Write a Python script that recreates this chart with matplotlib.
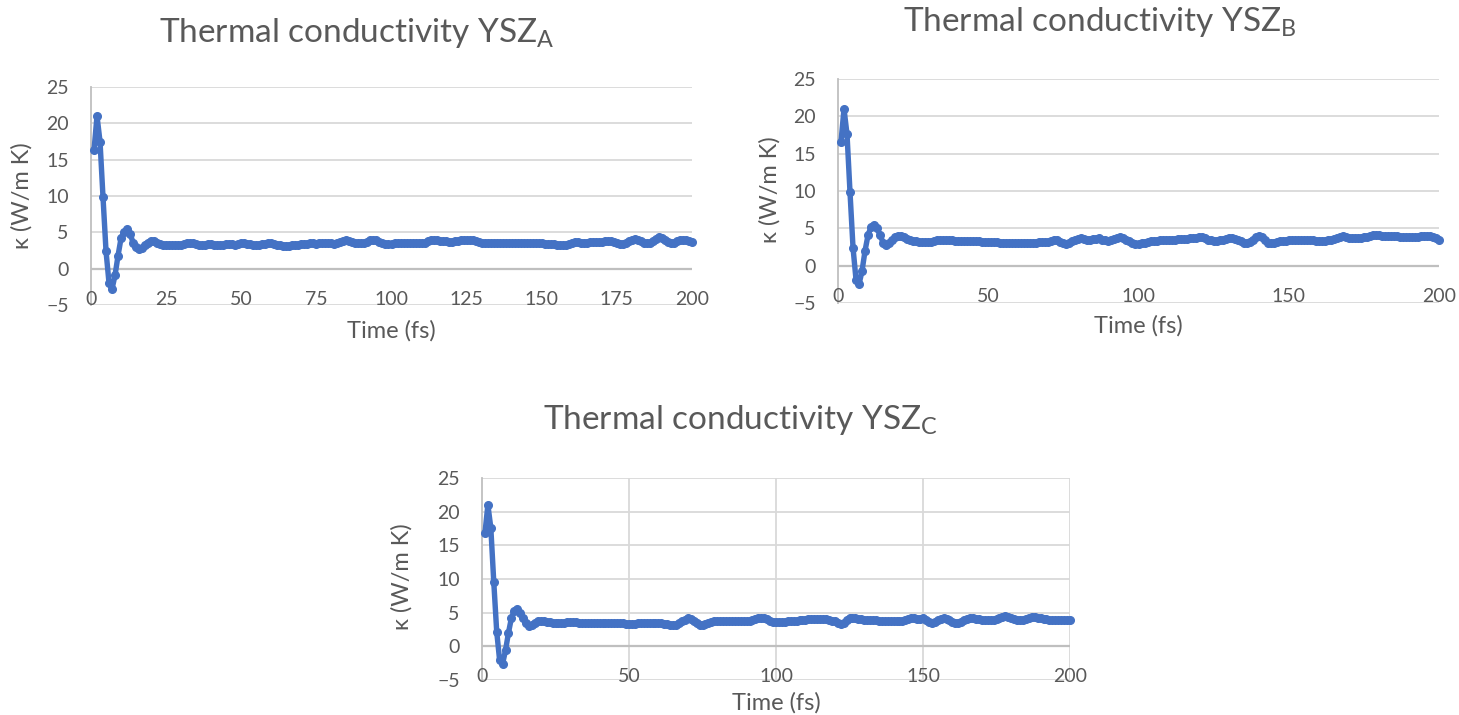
import matplotlib
matplotlib.use("Agg")
import matplotlib.pyplot as plt

plt.rcParams['font.family'] = ['Lato', 'DejaVu Sans']
plt.rcParams['mathtext.fontset'] = 'custom'
plt.rcParams['mathtext.rm'] = 'Lato'
plt.rcParams['mathtext.it'] = 'Lato'

time_fs = list(range(1, 201))

kappa_A = [
    16.3, 21.0, 17.5, 9.8, 2.4, -2.0, -2.8, -0.9, 1.8, 4.2,
    5.1, 5.4, 4.8, 3.6, 3.0, 2.7, 2.9, 3.3, 3.6, 3.8,
    3.8, 3.6, 3.4, 3.3, 3.2, 3.3, 3.3, 3.2, 3.3, 3.3,
    3.4, 3.5, 3.6, 3.5, 3.4, 3.3, 3.3, 3.3, 3.4, 3.4,
    3.3, 3.3, 3.3, 3.3, 3.4, 3.4, 3.4, 3.3, 3.4, 3.5,
    3.5, 3.4, 3.4, 3.3, 3.3, 3.3, 3.4, 3.4, 3.5, 3.5,
    3.4, 3.3, 3.2, 3.1, 3.1, 3.1, 3.2, 3.3, 3.3, 3.4,
    3.4, 3.4, 3.5, 3.5, 3.4, 3.5, 3.5, 3.5, 3.5, 3.5,
    3.4, 3.6, 3.7, 3.8, 3.9, 3.8, 3.7, 3.6, 3.5, 3.5,
    3.6, 3.7, 3.9, 4.0, 3.9, 3.7, 3.5, 3.4, 3.4, 3.4,
    3.5, 3.5, 3.5, 3.5, 3.5, 3.5, 3.5, 3.5, 3.5, 3.5,
    3.6, 3.8, 4.0, 4.0, 3.9, 3.8, 3.8, 3.8, 3.7, 3.7,
    3.8, 3.8, 3.9, 3.9, 3.9, 3.9, 3.9, 3.8, 3.7, 3.6,
    3.6, 3.6, 3.6, 3.6, 3.6, 3.6, 3.6, 3.6, 3.6, 3.6,
    3.6, 3.6, 3.6, 3.6, 3.5, 3.5, 3.5, 3.5, 3.5, 3.5,
    3.4, 3.4, 3.4, 3.4, 3.3, 3.2, 3.2, 3.2, 3.4, 3.6,
    3.7, 3.7, 3.6, 3.6, 3.6, 3.7, 3.7, 3.7, 3.7, 3.7,
    3.8, 3.8, 3.8, 3.7, 3.5, 3.4, 3.4, 3.5, 3.8, 4.0,
    4.1, 4.0, 3.8, 3.6, 3.5, 3.5, 3.8, 4.1, 4.3, 4.2,
    4.0, 3.7, 3.5, 3.6, 3.8, 4.0, 4.0, 3.9, 3.8, 3.7,
]

kappa_B = [
    16.6, 21.0, 17.6, 9.8, 2.4, -1.9, -2.5, -0.7, 2.0, 4.1,
    5.2, 5.5, 5.0, 4.1, 3.1, 2.8, 3.0, 3.4, 3.8, 3.95,
    3.95, 3.8, 3.6, 3.4, 3.3, 3.3, 3.2, 3.2, 3.2, 3.2,
    3.2, 3.3, 3.4, 3.4, 3.4, 3.5, 3.5, 3.4, 3.3, 3.3,
    3.3, 3.3, 3.3, 3.3, 3.3, 3.3, 3.3, 3.2, 3.2, 3.2,
    3.2, 3.2, 3.2, 3.1, 3.1, 3.1, 3.1, 3.0, 3.0, 3.0,
    3.0, 3.1, 3.1, 3.1, 3.1, 3.1, 3.2, 3.2, 3.2, 3.2,
    3.3, 3.5, 3.4, 3.2, 3.0, 2.9, 3.0, 3.3, 3.5, 3.6,
    3.65, 3.6, 3.5, 3.5, 3.55, 3.6, 3.65, 3.5, 3.4, 3.35,
    3.4, 3.6, 3.75, 3.8, 3.7, 3.5, 3.3, 3.1, 2.95, 2.9,
    3.0, 3.1, 3.2, 3.25, 3.3, 3.35, 3.4, 3.4, 3.45, 3.5,
    3.5, 3.5, 3.55, 3.6, 3.6, 3.6, 3.7, 3.7, 3.75, 3.8,
    3.8, 3.7, 3.5, 3.4, 3.35, 3.35, 3.4, 3.5, 3.6, 3.65,
    3.65, 3.6, 3.5, 3.3, 3.1, 3.05, 3.2, 3.5, 3.8, 3.95,
    3.8, 3.4, 3.1, 3.0, 3.1, 3.2, 3.3, 3.35, 3.35, 3.4,
    3.4, 3.4, 3.4, 3.4, 3.4, 3.4, 3.4, 3.4, 3.35, 3.35,
    3.35, 3.35, 3.4, 3.5, 3.6, 3.75, 3.9, 3.95, 3.85, 3.75,
    3.7, 3.65, 3.65, 3.7, 3.8, 3.9, 4.0, 4.1, 4.1, 4.05,
    4.0, 3.95, 3.95, 3.95, 3.95, 3.95, 3.9, 3.85, 3.8, 3.8,
    3.8, 3.85, 3.9, 3.95, 4.0, 4.0, 3.95, 3.85, 3.7, 3.5,
]

kappa_C = [
    16.8, 21.0, 17.6, 9.6, 2.2, -2.1, -2.6, -0.6, 2.0, 4.2,
    5.3, 5.5, 5.0, 4.2, 3.4, 3.0, 3.1, 3.4, 3.7, 3.8,
    3.7, 3.6, 3.6, 3.5, 3.5, 3.5, 3.5, 3.5, 3.6, 3.6,
    3.6, 3.6, 3.5, 3.45, 3.45, 3.45, 3.45, 3.5, 3.45, 3.45,
    3.4, 3.4, 3.45, 3.5, 3.5, 3.5, 3.45, 3.4, 3.35, 3.35,
    3.35, 3.35, 3.4, 3.4, 3.4, 3.45, 3.45, 3.4, 3.45, 3.45,
    3.4, 3.35, 3.3, 3.2, 3.1, 3.2, 3.4, 3.7, 3.95, 4.15,
    4.0, 3.7, 3.4, 3.1, 3.1, 3.3, 3.5, 3.65, 3.75, 3.77,
    3.77, 3.75, 3.75, 3.75, 3.7, 3.7, 3.7, 3.7, 3.7, 3.7,
    3.75, 3.85, 4.0, 4.15, 4.25, 4.2, 4.0, 3.8, 3.65, 3.6,
    3.6, 3.6, 3.65, 3.7, 3.75, 3.77, 3.8, 3.85, 3.9, 3.95,
    4.0, 4.05, 4.05, 4.05, 4.05, 4.05, 4.0, 3.9, 3.8, 3.7,
    3.5, 3.3, 3.5, 3.9, 4.2, 4.25, 4.15, 4.05, 4.0, 3.95,
    3.9, 3.9, 3.9, 3.85, 3.8, 3.75, 3.7, 3.7, 3.7, 3.7,
    3.7, 3.7, 3.75, 3.85, 4.0, 4.15, 4.15, 4.1, 4.05, 4.15,
    3.9, 3.6, 3.44, 3.6, 3.9, 4.1, 4.15, 4.1, 3.9, 3.65,
    3.5, 3.44, 3.6, 3.9, 4.1, 4.15, 4.15, 4.1, 4.0, 3.9,
    3.9, 3.9, 3.9, 3.9, 4.0, 4.2, 4.4, 4.5, 4.4, 4.2,
    4.0, 3.9, 3.9, 3.95, 4.1, 4.2, 4.3, 4.3, 4.25, 4.2,
    4.1, 4.0, 3.95, 3.9, 3.9, 3.9, 3.9, 3.9, 3.9, 3.9,
]

xticks_A = [0, 25, 50, 75, 100, 125, 150, 175, 200]
xticks_BC = [0, 50, 100, 150, 200]
yticks = [-5, 0, 5, 10, 15, 20, 25]

W, H = 1459, 715
fig = plt.figure(figsize=(W / 100, H / 100), dpi=100)

LINE = '#4472C4'
TXT = '#595959'
GRID = '#D9D9D9'
AXC = '#BFBFBF'


def px_axes(left, right, top, bottom):
    return fig.add_axes([left / W, 1 - bottom / H, (right - left) / W, (bottom - top) / H])


panels = [
    dict(box=(91, 692, 87, 305), data=kappa_A, xt=xticks_A, vgrid=False,
         tpos=(357, 33), ypos=(22, 196), xpos=(391, 331), sub='A', xl_y=-4.2),
    dict(box=(838, 1439, 79, 303), data=kappa_B, xt=xticks_BC, vgrid=False,
         tpos=(1100, 22), ypos=(770, 190), xpos=(1138, 326), sub='B', xl_y=-4.1),
    dict(box=(482, 1070, 478, 680), data=kappa_C, xt=xticks_BC, vgrid=True,
         tpos=(740, 420), ypos=(402, 577), xpos=(776, 703), sub='C', xl_y=-4.5),
]

for p in panels:
    l, r, t, b = p['box']
    ax = px_axes(l, r, t, b)
    ax.set_xlim(0, 200)
    ax.set_ylim(-5, 25)
    ax.set_yticks(yticks)
    ax.set_xticks(p['xt'])
    ax.set_xticklabels([])
    for yv in yticks:
        if yv == 0:
            continue
        ax.axhline(yv, color=GRID, lw=1.3, zorder=0)
    if p['vgrid']:
        for xv in p['xt'][1:]:
            ax.axvline(xv, color=GRID, lw=1.3, zorder=0)
    for s in ['top', 'right', 'bottom']:
        ax.spines[s].set_visible(False)
    ax.spines['left'].set_color(AXC)
    ax.spines['left'].set_linewidth(1.3)
    ax.axhline(0, color=AXC, lw=1.6, zorder=1)
    ax.tick_params(length=0, labelsize=14, labelcolor=TXT)
    ax.tick_params(axis='y', pad=16)
    ax.set_facecolor('none')
    ax.plot(time_fs, p['data'], color=LINE, lw=3.9, marker='o', ms=5.5,
            solid_capstyle='round', solid_joinstyle='round', zorder=3, clip_on=False)

    for xv in p['xt']:
        ax.text(xv, p['xl_y'], str(xv), ha='center', va='center',
                fontsize=14, color=TXT)

    tx, ty = p['tpos']
    fig.text(tx / W, 1 - ty / H, 'Thermal conductivity YSZ$_\\mathregular{%s}$' % p['sub'],
             ha='center', va='center', fontsize=24, color=TXT)
    yx, yy = p['ypos']
    fig.text(yx / W, 1 - yy / H, 'κ (W/m K)', ha='center', va='center', rotation=90,
             fontsize=17, color=TXT)
    xx, xy = p['xpos']
    fig.text(xx / W, 1 - xy / H, 'Time (fs)', ha='center', va='center',
             fontsize=17, color=TXT)

fig.savefig('out.png', dpi=100, facecolor='white')
